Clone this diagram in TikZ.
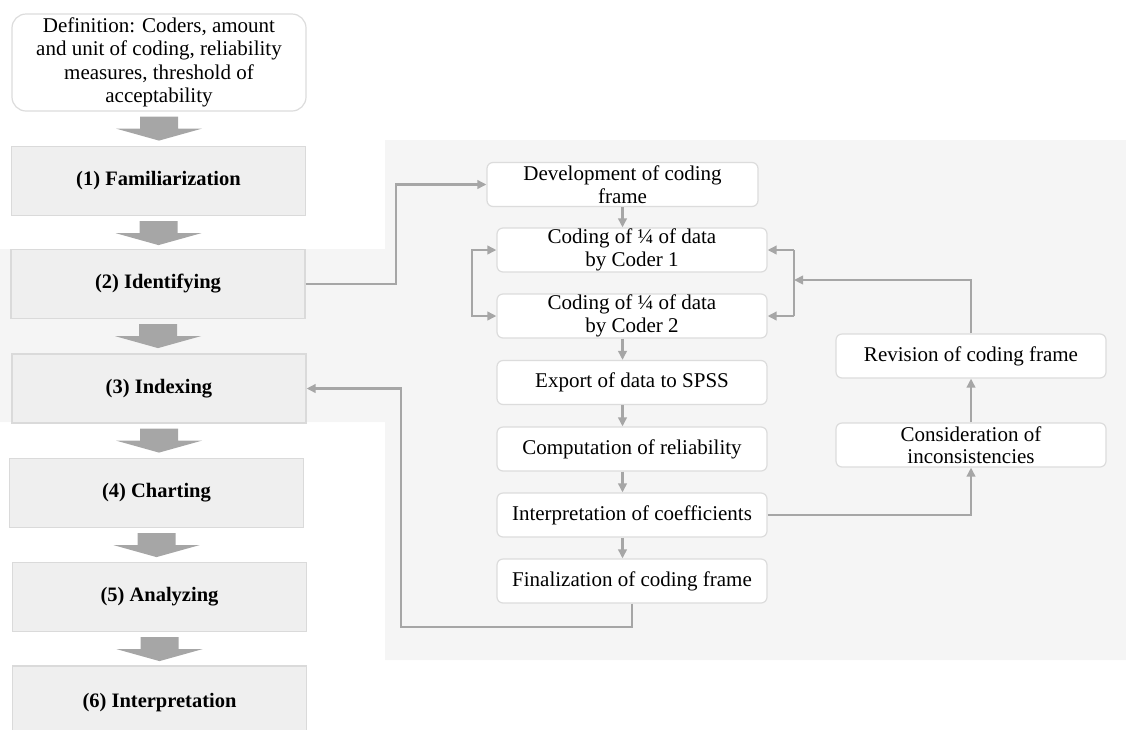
\documentclass[tikz,border=0pt]{standalone}
\usepackage{fontspec}
\setmainfont{Liberation Serif}
\usetikzlibrary{arrows.meta,calc}
\definecolor{linegray}{HTML}{A6A6A6}
\definecolor{panelgray}{HTML}{F5F5F5}
\definecolor{stagefill}{HTML}{EFEFEF}
\definecolor{stageline}{HTML}{DADADA}
\definecolor{boxline}{HTML}{DCDCDC}
\begin{document}
\begin{tikzpicture}[x=1pt,y=-1pt,
  stagebox/.style={draw=stageline, line width=1.2pt, fill=stagefill, minimum width=294pt, minimum height=69pt, inner sep=0pt, font=\fontsize{20.5}{23}\selectfont\bfseries},
  defbox/.style={draw=boxline, line width=1.2pt, fill=white, rounded corners=14pt, minimum width=294pt, minimum height=97pt, inner sep=0pt, align=center, font=\fontsize{21}{23.3}\selectfont},
  stepnode/.style={draw=boxline, line width=1.2pt, fill=white, rounded corners=6pt, minimum width=270pt, minimum height=44pt, inner sep=0pt, align=center, font=\fontsize{21}{22.5}\selectfont},
  conn/.style={draw=linegray, line width=2.9pt},
  tip/.style={conn, -{Triangle[length=9pt,width=8.5pt]}},
  bigarrow/.style={fill=linegray}
]
\useasboundingbox (0,0) rectangle (1126,729);
% background panel
\fill[panelgray] (385,140) -- (1126,140) -- (1126,660) -- (385,660) -- (385,422) -- (0,422) -- (0,249) -- (385,249) -- cycle;

% left column
\node[defbox] (def) at (159,62.5) {Definition: Coders, amount\\and unit of coding, reliability\\measures, threshold of\\acceptability};
\node[stagebox] (s1) at (158.5,181) {(1) Familiarization};
\node[stagebox] (s2) at (158,284) {(2) Identifying};
\node[stagebox] (s3) at (159,388.5) {(3) Indexing};
\node[stagebox] (s4) at (156.5,493) {(4) Charting};
\node[stagebox] (s5) at (159.5,597) {(5) Analyzing};
\node[stagebox, minimum height=74pt] (s6) at (159.5,703) {(6) Interpretation};

% block arrows between stages
\foreach \a in {def,s1,s2,s3,s4,s5}{
  \fill[bigarrow] ($(\a.south)+(-19,5)$) -- ++(38,0) -- ++(0,12) -- ++(24,0) -- ++(-43,12) -- ++(-43,-12) -- ++(24,0) -- cycle;
}

% right panel nodes
\node[stepnode, minimum width=271pt] (dev) at (622.5,184.5) {Development of coding\\frame};
\node[stepnode] (c1) at (632,250) {Coding of ¼ of data\\by Coder 1};
\node[stepnode] (c2) at (632,316) {Coding of ¼ of data\\by Coder 2};
\node[stepnode] (exp) at (632,382.5) {Export of data to SPSS};
\node[stepnode] (comp) at (632,449) {Computation of reliability};
\node[stepnode] (interp) at (632,515) {Interpretation of coefficients};
\node[stepnode] (fin) at (632,581) {Finalization of coding frame};
\node[stepnode] (rev) at (971,356) {Revision of coding frame};
\node[stepnode] (cons) at (971,445) {Consideration of\\inconsistencies};

% helper coordinates
\coordinate (k1) at (396,0);
\coordinate (lx) at (472,0);
\coordinate (bx) at (794,280);
\coordinate (lp) at (401,627);

% connectors
\draw[tip] (s2.east) -- (s2.east -| k1) |- (dev.west);
\draw[tip] (dev.south) -- (dev.south |- c1.north);
\draw[tip] (dev.south |- c2.south) -- (dev.south |- exp.north);
\draw[tip] (dev.south |- exp.south) -- (dev.south |- comp.north);
\draw[tip] (dev.south |- comp.south) -- (dev.south |- interp.north);
\draw[tip] (dev.south |- interp.south) -- (dev.south |- fin.north);
\draw[conn, {Triangle[length=9pt,width=8.5pt]}-{Triangle[length=9pt,width=8.5pt]}] (c1.west) -- (c1.west -| lx) -- (c2.west -| lx) -- (c2.west);
\draw[conn] (c1.east -| bx) -- (c2.east -| bx);
\draw[tip] (c1.east -| bx) -- (c1.east);
\draw[tip] (c2.east -| bx) -- (c2.east);
\draw[tip] (rev.north) |- (bx);
\draw[tip] (interp.east) -| (cons.south);
\draw[tip] (cons.north) -- (rev.south);
\draw[tip] (fin.south) |- (lp) |- (s3.east);
\end{tikzpicture}
\end{document}
